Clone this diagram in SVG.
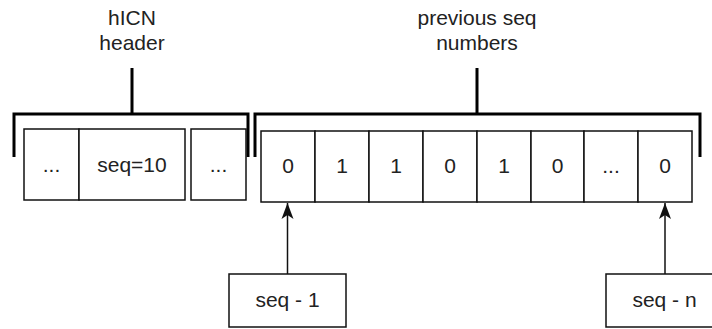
<svg xmlns="http://www.w3.org/2000/svg" width="712" height="329" viewBox="0 0 712 329">
  <style>
    .bg { fill: #ffffff; }
    .box { fill: #ffffff; stroke: #111111; stroke-width: 1.5; }
    .brace { fill: none; stroke: #000000; stroke-width: 3; stroke-linecap: butt; stroke-linejoin: miter; }
    .edge { fill: none; stroke: #111111; stroke-width: 1.5; }
    text { font-family: "Liberation Sans", Arial, Helvetica, sans-serif; font-size: 21px; fill: #222222; text-anchor: middle; }
  </style>
  <defs>
    <marker id="arrow" viewBox="0 0 16 13" refX="16" refY="6.5" markerWidth="16" markerHeight="13" markerUnits="userSpaceOnUse" orient="auto">
      <path d="M16 6.5 L0 0.5 L4 6.5 L0 12.5 Z" fill="#111111"/>
    </marker>
  </defs>

  <rect class="bg" x="0" y="0" width="712" height="329"/>

  <!-- header label with its bracket -->
  <g id="header-bracket">
    <path class="brace" d="M14 157 V114 H248 V157 M132 114 V68"/>
    <text x="132" y="25">hICN</text>
    <text x="132" y="50">header</text>
  </g>

  <!-- bit array label with its bracket -->
  <g id="bits-bracket">
    <path class="brace" d="M255 157 V114 H700 V157 M477 114 V68"/>
    <text x="477" y="25">previous seq</text>
    <text x="477" y="50">numbers</text>
  </g>

  <!-- header fields -->
  <g id="field-pre">
    <rect class="box" x="24" y="129" width="55" height="71"/>
    <text x="51.5" y="172">...</text>
  </g>
  <g id="field-seq">
    <rect class="box" x="79" y="129" width="106" height="71"/>
    <text x="132" y="172">seq=10</text>
  </g>
  <g id="field-post">
    <rect class="box" x="191" y="129" width="55" height="71"/>
    <text x="218.5" y="172">...</text>
  </g>

  <!-- bitmap of previous sequence numbers -->
  <g id="bit-0"><rect class="box" x="261" y="131" width="54" height="71"/><text x="288" y="173">0</text></g>
  <g id="bit-1"><rect class="box" x="315" y="131" width="54" height="71"/><text x="342" y="173">1</text></g>
  <g id="bit-2"><rect class="box" x="369" y="131" width="54" height="71"/><text x="396" y="173">1</text></g>
  <g id="bit-3"><rect class="box" x="423" y="131" width="54" height="71"/><text x="450" y="173">0</text></g>
  <g id="bit-4"><rect class="box" x="477" y="131" width="54" height="71"/><text x="504" y="173">1</text></g>
  <g id="bit-5"><rect class="box" x="531" y="131" width="53" height="71"/><text x="557.5" y="173">0</text></g>
  <g id="bit-6"><rect class="box" x="584" y="131" width="54" height="71"/><text x="611" y="173">...</text></g>
  <g id="bit-7"><rect class="box" x="638" y="131" width="54" height="71"/><text x="665" y="173">0</text></g>

  <!-- pointers -->
  <g id="ptr-first">
    <rect class="box" x="229" y="274" width="117" height="53"/>
    <text x="287.5" y="307">seq - 1</text>
  </g>
  <g id="ptr-last">
    <rect class="box" x="606" y="274" width="117" height="53"/>
    <text x="664.5" y="307">seq - n</text>
  </g>

  <g id="connectors">
    <line class="edge" x1="287.5" y1="274" x2="287.5" y2="203" marker-end="url(#arrow)"/>
    <line class="edge" x1="665" y1="274" x2="665" y2="203" marker-end="url(#arrow)"/>
  </g>
</svg>
